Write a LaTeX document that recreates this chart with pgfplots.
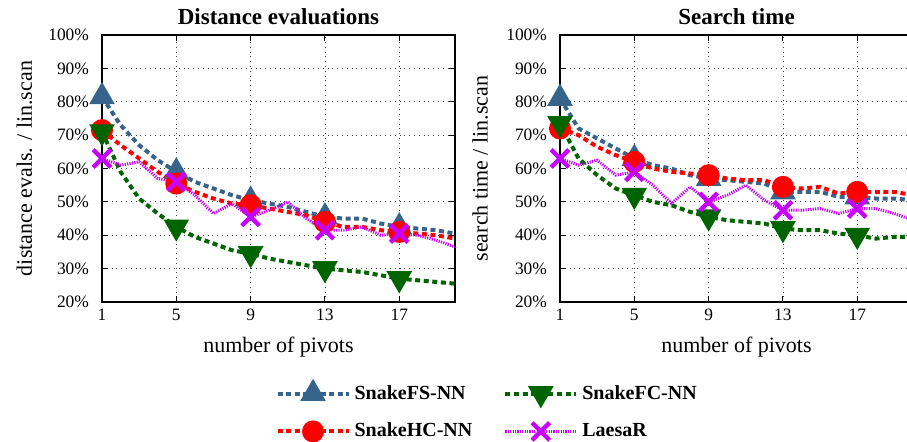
\documentclass[border=0pt]{standalone}
\usepackage{pgfplots}
\pgfplotsset{compat=1.18}
\usepackage{pgfplotstable}
\usepackage{fontspec}
\setmainfont{Liberation Serif}
\definecolor{cfs}{RGB}{54,100,139}
\definecolor{chc}{RGB}{255,0,0}
\definecolor{cfc}{RGB}{0,100,0}
\definecolor{cla}{RGB}{200,0,255}

\pgfplotstableread{
x fs hc fc la
1 81.5 71.5 71 63
2 73 67 59 61
3 67 63 51 62
4 62.5 59 46.5 57
5 59 55.5 42.5 56
6 56 53 39.5 52
7 54 51 37.5 46.5
8 52 49.5 35.5 49.5
9 50.5 49 34.5 45.5
10 49.5 48 33 47.5
11 48.5 47 32 50
12 47 46 31 45
13 45.5 44 30 41.5
14 45 42.5 29.5 41.5
15 45 42.5 29 42.5
16 43.5 41.5 28 40
17 42.5 41 27 40.5
18 42 40.5 26.5 40
19 41.5 40 26 38.5
20 40.5 39 25.5 36.5
}\distdata

\pgfplotstableread{
x fs hc fc la
1 81 72 73.5 63
2 72 70 63 61
3 69 66.5 58 62.5
4 66 64 54 58
5 63 62 52 59
6 61 60 50 55
7 60 59 49 49.5
8 58 58.5 47 54.5
9 57 58 45.5 50
10 56.5 57 44.5 52
11 56 56.5 44 55
12 55.5 56.5 43.5 50.5
13 53 54.5 42 47.5
14 53 54 41.5 47.5
15 53 54.5 41.5 48
16 51.5 52.5 40.5 46.5
17 51.5 53 40 48
18 51 53 39 48
19 51 53 39.5 46.5
20 50.5 52 39.5 44.5
}\timedata

\pgfplotsset{
  myaxis/.style={
    scale only axis, width=176.5pt, height=133.5pt,
    xmin=1, xmax=20, ymin=20, ymax=100,
    xtick={1,5,9,13,17}, ytick={20,30,...,100},
    yticklabel={\pgfmathprintnumber{\tick}\%},
    /pgf/number format/assume math mode=true,
    tick label style={font=\fontsize{8.7}{10}\selectfont},
    yticklabel style={xshift=-3pt},
    label style={font=\fontsize{11}{13}\selectfont},
    every axis title shift=0pt,
    title style={font=\fontsize{11.5}{13}\selectfont\bfseries, at={(axis description cs:0.5,1.067)}, anchor=center},
    xlabel style={at={(axis description cs:0.5,-0.17)}, anchor=center},
    grid=major,
    major grid style={dotted, black!75, line width=0.4pt},
    axis line style={line width=0.8pt},
    tick align=inside, major tick length=3pt, tick style={black, line width=0.5pt},
    xlabel={number of pivots},
    mark repeat=4, mark phase=1,
    legend image code/.code={\draw[#1,mark repeat=2,mark phase=2] plot coordinates {(0pt,0pt) (17.75pt,0pt) (35.5pt,0pt)};},
  },
  sfs/.style={color=cfs, line width=2pt, dash pattern=on 2.5pt off 1.8pt, mark=triangle*, mark size=5.4pt, mark options={solid, fill=cfs}},
  shc/.style={color=chc, line width=2pt, dash pattern=on 2.5pt off 1.8pt, mark=*, mark size=4.5pt, mark options={solid, fill=chc}},
  sfc/.style={color=cfc, line width=2pt, dash pattern=on 2.5pt off 1.8pt, mark=triangle*, mark size=5.4pt, mark options={solid, fill=cfc, rotate=180}},
  sla/.style={color=cla, line width=1.5pt, dash pattern=on 0.6pt off 0.6pt, mark=x, mark size=6.2pt, mark options={solid, line width=2.2pt}},
}

\begin{document}
\begin{tikzpicture}
\begin{axis}[myaxis, at={(51pt,-151pt)}, anchor=south west,
  title={Distance evaluations},
  ylabel={distance evals. / lin.scan},
  ylabel style={at={(axis description cs:-0.22,0.5)}, anchor=center},
  legend columns=2, transpose legend,
  legend style={at={(axis description cs:1.094,-0.414)}, anchor=center, draw=none, fill=none,
    font=\fontsize{10}{12}\selectfont\bfseries, row sep=6.5pt,
    /tikz/every even column/.append style={column sep=13.5pt}},
  legend cell align=left,
]
\addplot[sfs] table[x=x,y=fs] {\distdata};
\addlegendentry{SnakeFS-NN}
\addplot[shc] table[x=x,y=hc] {\distdata};
\addlegendentry{SnakeHC-NN}
\addplot[sfc] table[x=x,y=fc] {\distdata};
\addlegendentry{SnakeFC-NN}
\addplot[sla] table[x=x,y=la] {\distdata};
\addlegendentry{LaesaR}
\end{axis}
\begin{axis}[myaxis, at={(280pt,-151pt)}, anchor=south west,
  title={Search time},
  ylabel={search time / lin.scan},
  ylabel style={at={(axis description cs:-0.226,0.5)}, anchor=center},
]
\addplot[sfs] table[x=x,y=fs] {\timedata};
\addplot[shc] table[x=x,y=hc] {\timedata};
\addplot[sfc] table[x=x,y=fc] {\timedata};
\addplot[sla] table[x=x,y=la] {\timedata};
\end{axis}
\pgfresetboundingbox
\path[use as bounding box] (0pt,0pt) rectangle (453.5pt,-221pt);
\end{tikzpicture}
\end{document}
